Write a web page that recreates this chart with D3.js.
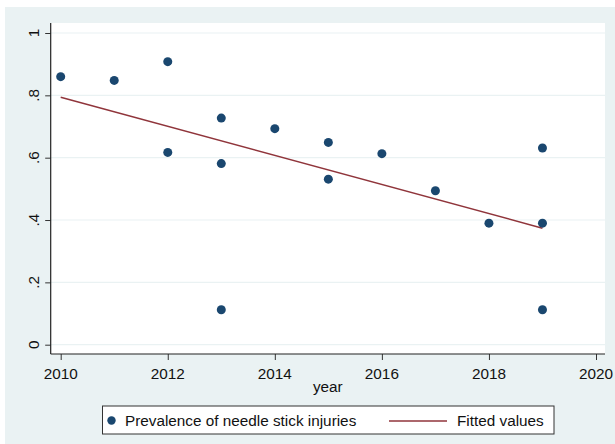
<!DOCTYPE html>
<html>
<head>
<meta charset="utf-8">
<script src="https://cdn.jsdelivr.net/npm/d3@7"></script>
<style>
  html, body { margin: 0; padding: 0; background: #ffffff; }
  svg { display: block; font-family: Arial, "Liberation Sans", Helvetica, sans-serif; }
</style>
</head>
<body>
<svg id="chart" width="615" height="444"></svg>
<script>
// Survey year and prevalence of needle stick injuries (proportion)
const years = [2010, 2011, 2012, 2012, 2013, 2013, 2013, 2014, 2015, 2015, 2016, 2017, 2018, 2019, 2019, 2019];
const prevalence = [0.860, 0.848, 0.908, 0.617, 0.727, 0.581, 0.112, 0.693, 0.649, 0.531, 0.613, 0.494, 0.390, 0.631, 0.390, 0.112];

const xTicks = [2010, 2012, 2014, 2016, 2018, 2020];
const yTicks = [0, 0.2, 0.4, 0.6, 0.8, 1];
const yTickLabels = ["0", ".2", ".4", ".6", ".8", "1"];

const xTitle = "year";
const legendLabels = ["Prevalence of needle stick injuries", "Fitted values"];

const navy = "#1a476f";
const maroon = "#90353b";
const bg = "#eaf2f3";
const fontSize = 15.3;

const W = 615, H = 444;
const plot = { left: 50.7, right: 605, top: 23, bottom: 354 };

const svg = d3.select("#chart");

// outer graph region
svg.append("rect").attr("x", 5).attr("y", 7).attr("width", W - 5).attr("height", H - 7).attr("fill", bg);
// plot region
svg.append("rect").attr("x", plot.left).attr("y", plot.top)
  .attr("width", plot.right - plot.left).attr("height", plot.bottom - plot.top).attr("fill", "#ffffff");

const x = d3.scaleLinear().domain([2010, 2020]).range([60.7, 596]);
const y = d3.scaleLinear().domain([0, 1]).range([344.7, 33]);

// horizontal grid lines
svg.append("g").selectAll("line").data(yTicks).join("line")
  .attr("x1", plot.left).attr("x2", plot.right)
  .attr("y1", d => y(d)).attr("y2", d => y(d))
  .attr("stroke", bg).attr("stroke-width", 1.2);

// y axis
const yAxis = svg.append("g").attr("transform", `translate(${plot.left},0)`)
  .call(d3.axisLeft(y).tickValues(yTicks).tickSize(5.5).tickSizeOuter(0).tickFormat(""));
yAxis.select(".domain").remove();
yAxis.selectAll(".tick line").attr("stroke", "#333");
svg.append("line").attr("x1", plot.left).attr("x2", plot.left)
  .attr("y1", plot.top).attr("y2", plot.bottom).attr("stroke", "#222").attr("stroke-width", 1.2);
svg.append("g").selectAll("text").data(yTicks).join("text")
  .attr("transform", d => `translate(38.6,${y(d)}) rotate(-90)`)
  .attr("text-anchor", "middle")
  .attr("font-size", fontSize).attr("fill", "#111")
  .text((d, i) => yTickLabels[i]);

// x axis
const xAxis = svg.append("g").attr("transform", `translate(0,${plot.bottom})`)
  .call(d3.axisBottom(x).tickValues(xTicks).tickSize(6).tickSizeOuter(0).tickFormat(""));
xAxis.select(".domain").remove();
xAxis.selectAll(".tick line").attr("stroke", "#333");
svg.append("line").attr("x1", plot.left).attr("x2", plot.right)
  .attr("y1", plot.bottom).attr("y2", plot.bottom).attr("stroke", "#222").attr("stroke-width", 1.2);
svg.append("g").selectAll("text").data(xTicks).join("text")
  .attr("x", d => x(d)).attr("y", 378.9)
  .attr("text-anchor", "middle")
  .attr("font-size", fontSize).attr("fill", "#111")
  .text(d => d);

svg.append("text").attr("x", (plot.left + plot.right) / 2).attr("y", 392.3)
  .attr("text-anchor", "middle").attr("font-size", fontSize).attr("fill", "#111")
  .text(xTitle);

// least-squares fit of prevalence on year
const mx = d3.mean(years), my = d3.mean(prevalence);
const sxy = d3.sum(years, (v, i) => (v - mx) * (prevalence[i] - my));
const sxx = d3.sum(years, v => (v - mx) * (v - mx));
const slope = sxy / sxx;
const intercept = my - slope * mx;
const [x0, x1] = d3.extent(years);
const fitted = [x0, x1].map(v => ({ year: v, value: intercept + slope * v }));

svg.append("path")
  .datum(fitted)
  .attr("d", d3.line().x(d => x(d.year)).y(d => y(d.value)))
  .attr("fill", "none").attr("stroke", maroon).attr("stroke-width", 1.5);

// observed points
svg.append("g").selectAll("circle").data(years.map((v, i) => ({ year: v, value: prevalence[i] })))
  .join("circle")
  .attr("cx", d => x(d.year)).attr("cy", d => y(d.value))
  .attr("r", 4.5).attr("fill", navy);

// legend
const legend = svg.append("g");
legend.append("rect").attr("x", 102.5).attr("y", 406).attr("width", 451.5).attr("height", 28)
  .attr("fill", "#ffffff").attr("stroke", "#333").attr("stroke-width", 1);
legend.append("circle").attr("cx", 111.5).attr("cy", 420.5).attr("r", 4.2).attr("fill", navy);
legend.append("text").attr("x", 125).attr("y", 425.6).attr("font-size", fontSize).attr("fill", "#111")
  .text(legendLabels[0]);
legend.append("line").attr("x1", 389).attr("x2", 447).attr("y1", 421).attr("y2", 421)
  .attr("stroke", maroon).attr("stroke-width", 1.5);
legend.append("text").attr("x", 457).attr("y", 425.6).attr("font-size", fontSize).attr("fill", "#111")
  .text(legendLabels[1]);
</script>
</body>
</html>
